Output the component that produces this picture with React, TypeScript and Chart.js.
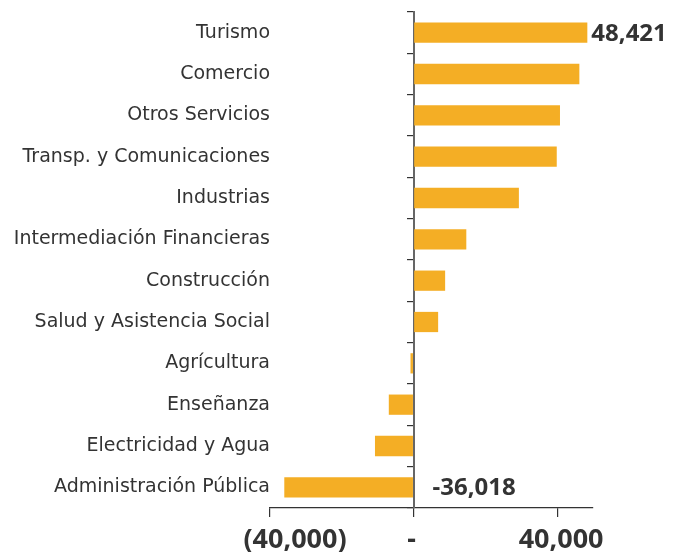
import React, { useEffect, useRef } from "react";
import { Chart, registerables } from "chart.js";

Chart.register(...registerables);

const categories = [
  "Turismo",
  "Comercio",
  "Otros Servicios",
  "Transp. y Comunicaciones",
  "Industrias",
  "Intermediación Financieras",
  "Construcción",
  "Salud y Asistencia Social",
  "Agrícultura",
  "Enseñanza",
  "Electricidad y Agua",
  "Administración Pública",
];

const values = [48421, 46200, 40800, 39900, 29350, 14700, 8800, 6850, -850, -6900, -10750, -36018];

const xTicks = [-40000, 0, 40000];
const xTickLabels = ["(40,000)", "-", "40,000"];

const FONT = "'Noto Sans', sans-serif";
const LABEL_FONT = "'DejaVu Sans', sans-serif";
const TEXT = "#333333";
const BAR = "#F4AE25";

const fmt = (v: number) => (v < 0 ? "-" : "") + Math.abs(v).toLocaleString("en-US");

const labelPlugin = {
  id: "customLabels",
  afterDraw(chart: any) {
    const ctx = chart.ctx;
    const xs = chart.scales.x;
    const meta = chart.getDatasetMeta(0);
    const maxI = values.indexOf(Math.max(...values));
    const minI = values.indexOf(Math.min(...values));
    ctx.save();
    ctx.fillStyle = TEXT;
    ctx.font = `bold 24px ${FONT}`;
    ctx.textBaseline = "middle";
    ctx.textAlign = "left";
    [maxI, minI].forEach((i) => {
      const el = meta.data[i];
      const v = values[i];
      const x = v >= 0 ? el.x + 4 : xs.getPixelForValue(0) + 19;
      ctx.fillText(fmt(v), x, el.y + 1);
    });
    // x tick labels
    const offsets = [25, -2, 4];
    ctx.font = `bold 27px ${FONT}`;
    ctx.textAlign = "center";
    xTicks.forEach((t, i) => {
      ctx.fillText(xTickLabels[i], xs.getPixelForValue(t) + offsets[i], 540);
    });
    ctx.restore();
  },
};

export default function App() {
  const ref = useRef<HTMLCanvasElement | null>(null);
  useEffect(() => {
    if (!ref.current) return;
    const chart = new Chart(ref.current, {
      type: "bar",
      data: {
        labels: categories,
        datasets: [
          {
            data: values,
            backgroundColor: BAR,
            borderWidth: 0,
            categoryPercentage: 1,
            barPercentage: 0.49,
          },
        ],
      },
      options: {
        indexAxis: "y",
        animation: false,
        responsive: false,
        events: [],
        layout: { padding: { top: 12, right: 91, bottom: 35, left: 0 } },
        plugins: { legend: { display: false }, tooltip: { enabled: false } },
        scales: {
          x: {
            type: "linear",
            min: -40000,
            max: 50000,
            afterBuildTicks: (s: any) => {
              s.ticks = xTicks.map((v) => ({ value: v }));
            },
            ticks: { display: false },
            grid: { display: true, drawOnChartArea: false, tickLength: 9, color: "#333", lineWidth: 1.2 },
            border: { display: true, color: "#333", width: 1.2 },
          },
          y: {
            type: "category",
            position: "left",
            afterFit: (s: any) => {
              s.width = 270;
            },
            grid: { display: false, drawTicks: false, tickLength: 0 },
            border: { display: false },
            ticks: { color: TEXT, font: { family: LABEL_FONT, size: 19 }, padding: 0 },
          },
          y2: {
            type: "category",
            axis: "y",
            position: { x: 0 } as any,
            offset: true,
            grid: { display: true, offset: true, drawOnChartArea: false, tickLength: 6, color: "#333", lineWidth: 1.2 },
            border: { display: true, color: "#666", width: 2 },
            ticks: { display: false },
          },
        },
      } as any,
      plugins: [labelPlugin],
    });
    return () => chart.destroy();
  }, []);
  return (
    <div style={{ position: "absolute", left: 0, top: 0, width: 684, height: 552 }}>
      <canvas ref={ref} width={684} height={552} />
    </div>
  );
}
